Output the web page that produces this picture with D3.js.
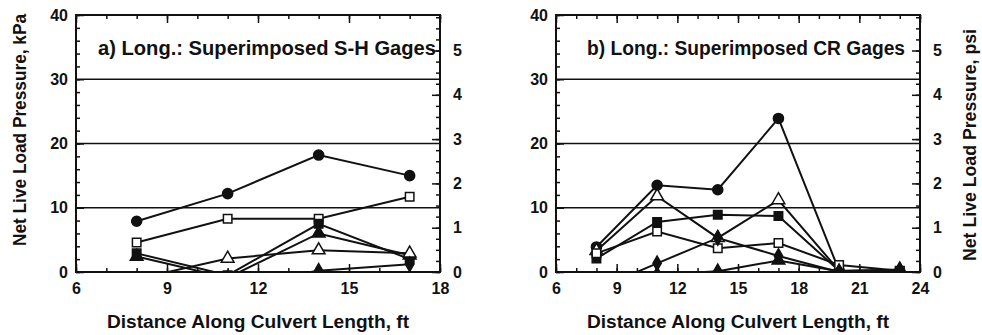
<!DOCTYPE html>
<html>
<head>
<meta charset="utf-8">
<script src="https://cdn.jsdelivr.net/npm/d3@7"></script>
<style>
  body { margin: 0; background: #fff; }
  text { font-family: "Liberation Sans", Arial, sans-serif; font-weight: bold; fill: #111; }
</style>
</head>
<body>
<svg id="chart" width="982" height="335"></svg>
<script>
// ---------- data (kPa) ----------
// panel a) Superimposed S-H gages
let xA = [8, 11, 14, 17];
let aCircle   = [7.9, 12.2, 18.2, 15.0];
let aSqOpen   = [4.6, 8.3, 8.3, 11.7];
let aSqFill   = [2.9, -0.5, 7.5, 2.0];
let aTriFill  = [2.4, -0.9, 6.0, 2.6];
let aTriOpen  = [-1.1, 2.1, 3.4, 2.9];
let aDiamond  = [-3.0, -2.0, 0.2, 1.2];

// panel b) Superimposed CR gages
let xB = [8, 11, 14, 17, 20, 23];
let bCircle   = [3.9, 13.5, 12.8, 23.9, 0.2, 0.1];
let bTriOpen  = [3.3, 11.8, 5.3, 11.2, 0.2, 0.3];
let bSqFill   = [2.1, 7.8, 8.9, 8.7, 0.2, 0.1];
let bSqOpen   = [2.9, 6.3, 3.7, 4.5, 1.1, 0.2];
let bDiamond  = [-2.7, 1.35, 5.3, 2.5, 0.0, 0.1];
let bTriFill  = [-1.5, -0.4, 0.1, 1.8, 0.1, 0.4];

let xTicksA = [6, 9, 12, 15, 18];
let xTicksB = [6, 9, 12, 15, 18, 21, 24];
let kpaTicks = [0, 10, 20, 30, 40];
let psiTicks = [0, 1, 2, 3, 4, 5];
let gridLines = [10, 20, 30];

const KPA_PER_PSI = 6.895;

let svg = d3.select('#chart');

// ---------- one panel ----------
function drawPanel(p) {
    let x = d3.scaleLinear().domain(p.xDomain).range([p.left, p.left + 364]);
    let y = d3.scaleLinear().domain([0, 40]).range([272, 15]);
    let yPsi = d3.scaleLinear().domain([0, 40 / KPA_PER_PSI]).range([272, 15]);

    let g = svg.append('g');

    g.append('clipPath').attr('id', p.id + '-clip')
        .append('rect')
        .attr('x', x.range()[0]).attr('y', 15)
        .attr('width', 364).attr('height', 257);

    // horizontal grid lines
    g.selectAll('.grid').data(gridLines).enter().append('line')
        .attr('x1', x.range()[0]).attr('x2', x.range()[1])
        .attr('y1', d => y(d)).attr('y2', d => y(d))
        .attr('stroke', '#111').attr('stroke-width', 1.5);

    // ticks, all pointing inward
    let nMinor = p.xDomain[1] - p.xDomain[0];
    g.append('g').attr('transform', 'translate(0,272)')
        .call(d3.axisBottom(x).ticks(nMinor).tickSizeInner(-4).tickSizeOuter(0).tickFormat(''));
    g.append('g').attr('transform', 'translate(0,15)')
        .call(d3.axisTop(x).ticks(nMinor).tickSizeInner(-4).tickSizeOuter(0).tickFormat(''));
    g.append('g').attr('transform', 'translate(0,272)')
        .call(d3.axisBottom(x).tickValues(p.xTicks).tickSizeInner(-8).tickSizeOuter(0).tickPadding(11));
    g.append('g').attr('transform', 'translate(0,15)')
        .call(d3.axisTop(x).tickValues(p.xTicks).tickSizeInner(-8).tickSizeOuter(0).tickFormat(''));

    g.append('g').attr('transform', 'translate(' + x.range()[0] + ',0)')
        .call(d3.axisLeft(y).tickValues(d3.range(0, 41, 2)).tickSizeInner(-4).tickSizeOuter(0).tickFormat(''));
    g.append('g').attr('transform', 'translate(' + x.range()[0] + ',0)')
        .call(d3.axisLeft(y).tickValues(kpaTicks).tickSizeInner(-8).tickSizeOuter(0).tickPadding(8));

    g.append('g').attr('transform', 'translate(' + x.range()[1] + ',0)')
        .call(d3.axisRight(yPsi).tickValues(d3.range(0, 5.8, 0.25)).tickSizeInner(-4).tickSizeOuter(0).tickFormat(''));
    g.append('g').attr('transform', 'translate(' + x.range()[1] + ',0)')
        .call(d3.axisRight(yPsi).tickValues(psiTicks).tickSizeInner(-8).tickSizeOuter(0)
            .tickPadding(13).tickFormat(d3.format('d')));

    g.selectAll('.domain').remove();
    g.selectAll('.tick line').attr('stroke', '#111').attr('stroke-width', 1.5);
    g.selectAll('.tick text').style('font-size', '16px').style('font-family', '"Liberation Sans", Arial, sans-serif')
        .style('font-weight', 'bold').attr('fill', '#111');

    // frame
    g.append('rect')
        .attr('x', x.range()[0]).attr('y', 15).attr('width', 364).attr('height', 257)
        .attr('fill', 'none').attr('stroke', '#111').attr('stroke-width', 2);

    // series
    let plot = g.append('g').attr('clip-path', 'url(#' + p.id + '-clip)');
    let line = d3.line().x(d => x(d[0])).y(d => y(d[1]));

    p.series.forEach(s => {
        let pts = p.xs.map((xv, i) => [xv, s.values[i]]);
        plot.append('path').datum(pts)
            .attr('d', line)
            .attr('fill', 'none').attr('stroke', '#111').attr('stroke-width', 2);
    });
    p.series.forEach(s => {
        let pts = p.xs.map((xv, i) => [xv, s.values[i]]);
        let sym = d3.symbol().type(s.type).size(s.size);
        plot.selectAll(null).data(pts).enter().append('path')
            .attr('d', sym)
            .attr('transform', d => 'translate(' + x(d[0]) + ',' + y(d[1]) + ')')
            .attr('fill', s.open ? '#fff' : '#111')
            .attr('stroke', '#111').attr('stroke-width', 1.5);
    });

    // annotation + x title
    g.append('text').attr('x', p.noteX).attr('y', 55)
        .style('font-size', '19.5px').attr('textLength', p.noteW).attr('lengthAdjust', 'spacingAndGlyphs')
        .text(p.note);
    g.append('text').attr('x', (x.range()[0] + x.range()[1]) / 2).attr('y', 328)
        .attr('text-anchor', 'middle').style('font-size', '18px')
        .attr('textLength', 302).attr('lengthAdjust', 'spacingAndGlyphs')
        .text('Distance Along Culvert Length, ft');
}

drawPanel({
    id: 'a', left: 76, xDomain: [6, 18], xTicks: xTicksA, xs: xA,
    note: 'a) Long.: Superimposed S-H Gages', noteX: 98, noteW: 338,
    series: [
        { values: aCircle,  type: d3.symbolCircle,   size: 80, open: false },
        { values: aSqOpen,  type: d3.symbolSquare,   size: 72, open: true },
        { values: aSqFill,  type: d3.symbolSquare,   size: 72, open: false },
        { values: aTriFill, type: d3.symbolTriangle, size: 70, open: false },
        { values: aTriOpen, type: d3.symbolTriangle, size: 70, open: true },
        { values: aDiamond, type: d3.symbolDiamond,  size: 60, open: false }
    ]
});

drawPanel({
    id: 'b', left: 556, xDomain: [6, 24], xTicks: xTicksB, xs: xB,
    note: 'b) Long.: Superimposed CR Gages', noteX: 587, noteW: 318,
    series: [
        { values: bCircle,  type: d3.symbolCircle,   size: 80, open: false },
        { values: bTriOpen, type: d3.symbolTriangle, size: 70, open: true },
        { values: bSqFill,  type: d3.symbolSquare,   size: 72, open: false },
        { values: bSqOpen,  type: d3.symbolSquare,   size: 72, open: true },
        { values: bDiamond, type: d3.symbolDiamond,  size: 60, open: false },
        { values: bTriFill, type: d3.symbolTriangle, size: 70, open: false }
    ]
});

// axis titles
svg.append('text')
    .attr('transform', 'translate(26,130) rotate(-90)')
    .attr('text-anchor', 'middle').style('font-size', '18px')
    .attr('textLength', 232).attr('lengthAdjust', 'spacingAndGlyphs')
    .text('Net Live Load Pressure, kPa');
svg.append('text')
    .attr('transform', 'translate(976,145) rotate(-90)')
    .attr('text-anchor', 'middle').style('font-size', '18px')
    .attr('textLength', 232).attr('lengthAdjust', 'spacingAndGlyphs')
    .text('Net Live Load Pressure, psi');
</script>
</body>
</html>
